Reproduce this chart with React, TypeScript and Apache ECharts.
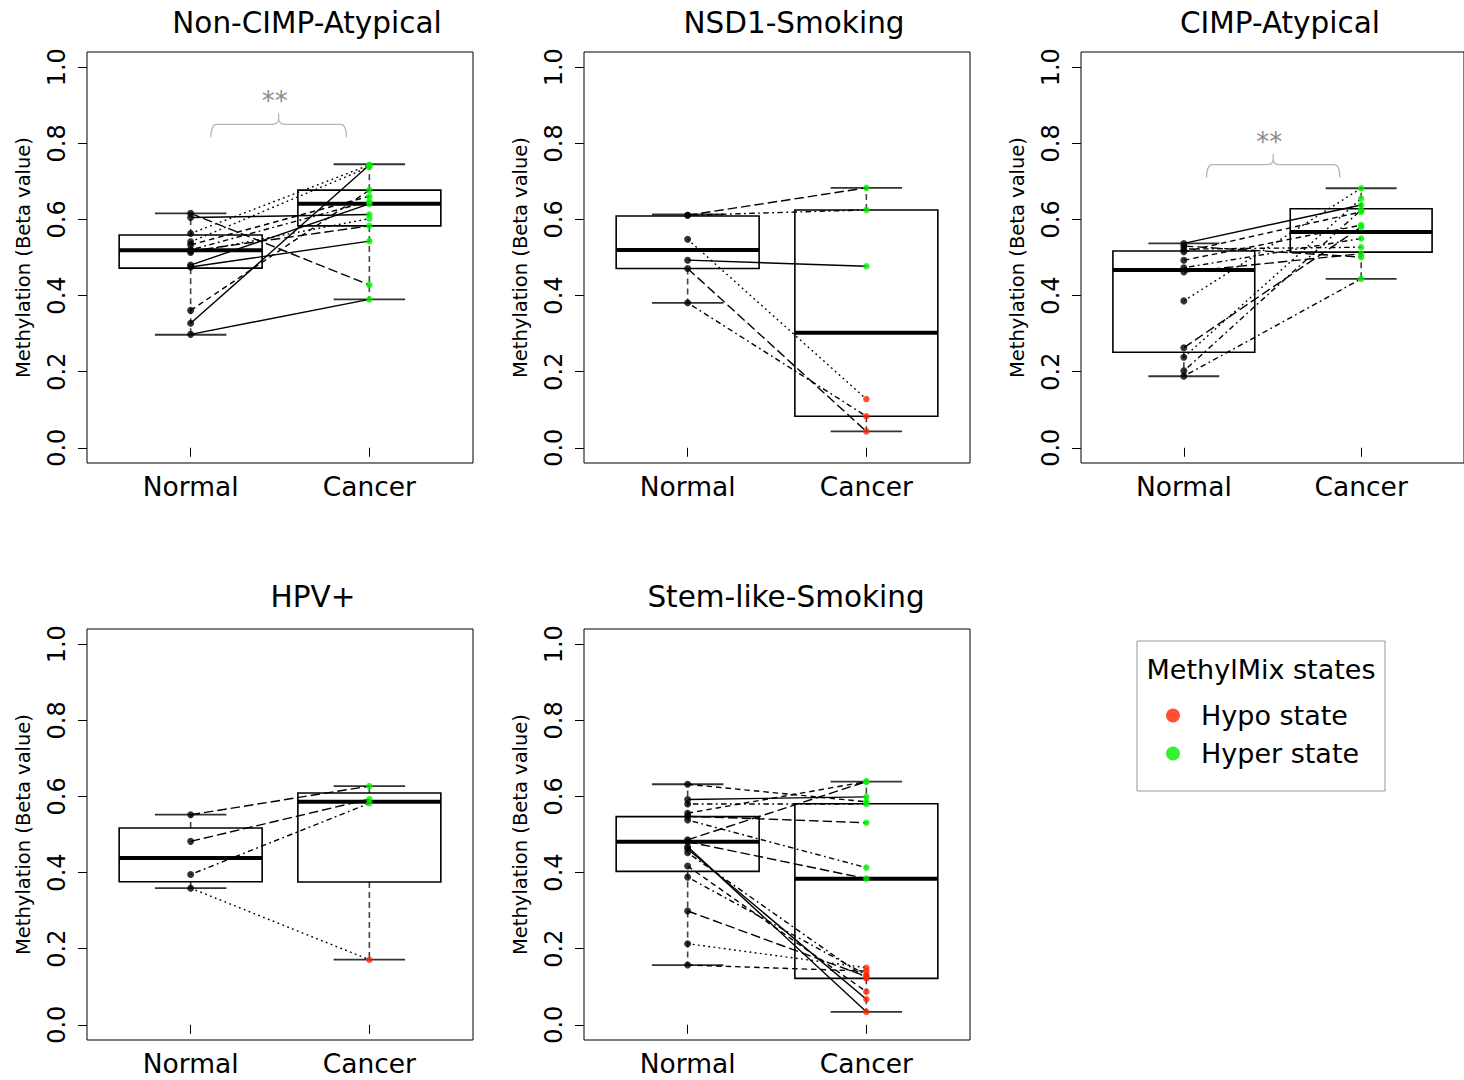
import React, { useEffect, useRef } from "react";
import * as echarts from "echarts";

// ---------------- data ----------------
const groups = ["Normal", "Cancer"];
const yTicks = [0, 0.2, 0.4, 0.6, 0.8, 1.0];
const titles = ["Non-CIMP-Atypical", "NSD1-Smoking", "CIMP-Atypical", "HPV+", "Stem-like-Smoking"];

// Panel 1: Non-CIMP-Atypical
const normal1 = [0.616, 0.605, 0.563, 0.541, 0.533, 0.52, 0.513, 0.48, 0.475, 0.361, 0.327, 0.298, 0.517];
const cancer1 = [0.428, 0.613, 0.743, 0.738, 0.661, 0.648, 0.602, 0.641, 0.543, 0.677, 0.743, 0.39, 0.583];
const state1 = ["hyper", "hyper", "hyper", "hyper", "hyper", "hyper", "hyper", "hyper", "hyper", "hyper", "hyper", "hyper", "hyper"];
const lty1 = ["longdash", "solid", "dotted", "dotted", "dashed", "dotdash", "dotted", "solid", "solid", "dashed", "solid", "solid", "longdash"];
const normalBox1 = [0.297, 0.472, 0.519, 0.559, 0.616];
const cancerBox1 = [0.39, 0.583, 0.641, 0.677, 0.745];

// Panel 2: NSD1-Smoking
const normal2 = [0.611, 0.611, 0.548, 0.493, 0.471, 0.381];
const cancer2 = [0.683, 0.625, 0.128, 0.477, 0.043, 0.083];
const state2 = ["hyper", "hyper", "hypo", "hyper", "hypo", "hypo"];
const lty2 = ["longdash", "dotdash", "dotted", "solid", "longdash", "dotdash"];
const normalBox2 = [0.381, 0.471, 0.52, 0.609, 0.613];
const cancerBox2 = [0.043, 0.083, 0.302, 0.625, 0.683];

// Panel 3: CIMP-Atypical
const normal3 = [0.537, 0.53, 0.522, 0.515, 0.493, 0.473, 0.462, 0.386, 0.263, 0.238, 0.202, 0.188];
const cancer3 = [0.638, 0.501, 0.527, 0.62, 0.585, 0.55, 0.51, 0.682, 0.58, 0.655, 0.625, 0.444];
const state3 = ["hyper", "hyper", "hyper", "hyper", "hyper", "hyper", "hyper", "hyper", "hyper", "hyper", "hyper", "hyper"];
const lty3 = ["solid", "longdash", "dotdash", "dashed", "dashed", "dotdash", "longdash", "dotted", "longdash", "dotted", "dotdash", "dotdash"];
const normalBox3 = [0.188, 0.251, 0.467, 0.517, 0.537];
const cancerBox3 = [0.444, 0.514, 0.567, 0.628, 0.682];

// Panel 4: HPV+
const normal4 = [0.552, 0.482, 0.395, 0.359];
const cancer4 = [0.627, 0.593, 0.582, 0.171];
const state4 = ["hyper", "hyper", "hyper", "hypo"];
const lty4 = ["longdash", "longdash", "dotdash", "dotted"];
const normalBox4 = [0.359, 0.376, 0.438, 0.517, 0.552];
const cancerBox4 = [0.171, 0.375, 0.586, 0.609, 0.627];

// Panel 5: Stem-like-Smoking
const normal5 = [0.632, 0.592, 0.58, 0.556, 0.548, 0.538, 0.486, 0.481, 0.468, 0.462, 0.452, 0.417, 0.388, 0.299, 0.213, 0.157];
const cancer5 = [0.586, 0.599, 0.58, 0.639, 0.531, 0.413, 0.639, 0.384, 0.034, 0.067, 0.122, 0.087, 0.131, 0.127, 0.15, 0.141];
const state5 = ["hyper", "hyper", "hyper", "hyper", "hyper", "hyper", "hyper", "hyper", "hypo", "hypo", "hypo", "hypo", "hypo", "hypo", "hypo", "hypo"];
const lty5 = ["dashed", "solid", "dotdash", "dashed", "longdash", "dotdash", "longdash", "longdash", "solid", "solid", "dotdash", "dashed", "dotdash", "longdash", "dotted", "dashed"];
const normalBox5 = [0.157, 0.403, 0.481, 0.547, 0.632];
const cancerBox5 = [0.034, 0.122, 0.384, 0.581, 0.639];

// significance brackets (x from, x to, level) for panels 1 and 3
const sigPanels = [0, 2];
const sigLeft = [1.113, 1.128];
const sigRight = [1.872, 1.88];
const sigLevel = [0.85, 0.744];
const sigLabel = ["**", "**"];

const legendTitle = "MethylMix states";
const legendNames = ["Hypo state", "Hyper state"];

// ---------------- styles / layout ----------------
const FONT = "DejaVu Sans";
const HYPO = "#ff2400";
const HYPER = "#00f000";
const LTY: Record<string, number[] | null> = {
  solid: null,
  dashed: [5.5, 4],
  dotted: [1.8, 3.4],
  dotdash: [1.8, 3.4, 5.5, 3.4],
  longdash: [9.5, 4],
  twodash: [2.6, 2.6, 8, 2.6],
};
const GRID_W = 386;
const GRID_H = 411;
const gridPos = [
  [87, 52],
  [584, 52],
  [1081, 52],
  [87, 629],
  [584, 629],
];
const titlePos = [
  [307, 8],
  [794, 8],
  [1280, 8],
  [313, 582],
  [786, 582],
];

const panels = [
  { normal: normal1, cancer: cancer1, state: state1, lty: lty1, nb: normalBox1, cb: cancerBox1 },
  { normal: normal2, cancer: cancer2, state: state2, lty: lty2, nb: normalBox2, cb: cancerBox2 },
  { normal: normal3, cancer: cancer3, state: state3, lty: lty3, nb: normalBox3, cb: cancerBox3 },
  { normal: normal4, cancer: cancer4, state: state4, lty: lty4, nb: normalBox4, cb: cancerBox4 },
  { normal: normal5, cancer: cancer5, state: state5, lty: lty5, nb: normalBox5, cb: cancerBox5 },
];

function buildOption() {
  const grid: any[] = [];
  const xAxis: any[] = [];
  const yAxis: any[] = [];
  const series: any[] = [];
  const title: any[] = [];

  panels.forEach((p, i) => {
    grid.push({
      left: gridPos[i][0],
      top: gridPos[i][1],
      width: GRID_W,
      height: GRID_H,
      show: true,
      borderColor: "#000",
      borderWidth: 1,
      backgroundColor: "transparent",
    });
    title.push({
      text: titles[i],
      left: titlePos[i][0],
      top: titlePos[i][1],
      textAlign: "center",
      padding: 0,
      textStyle: { fontFamily: FONT, fontSize: 29.5, fontWeight: "normal", color: "#000" },
    });
    xAxis.push({
      gridIndex: i,
      type: "value",
      min: 0.42,
      max: 2.58,
      axisLine: { show: false },
      splitLine: { show: false },
      axisTick: { show: true, customValues: [1, 2], length: 9, lineStyle: { color: "#000", width: 1 } },
      axisLabel: {
        customValues: [1, 2],
        formatter: (v: number) => groups[Math.round(v) - 1],
        margin: 10,
        fontSize: 26.5,
        fontFamily: FONT,
        color: "#000",
      },
    });
    yAxis.push({
      gridIndex: i,
      type: "value",
      min: -0.04,
      max: 1.04,
      axisLine: { show: false },
      splitLine: { show: false },
      axisTick: { show: true, customValues: yTicks, length: 9, lineStyle: { color: "#000", width: 1 } },
      axisLabel: {
        customValues: yTicks,
        formatter: (v: number) => v.toFixed(1),
        rotate: 90,
        margin: 18,
        fontSize: 24,
        fontFamily: FONT,
        color: "#000",
      },
      name: "Methylation (Beta value)",
      nameLocation: "middle",
      nameRotate: 90,
      nameGap: 54,
      nameTextStyle: { fontSize: 19.5, fontFamily: FONT, color: "#000" },
    });

    // boxes
    series.push({
      type: "custom",
      name: "box" + i,
      xAxisIndex: i,
      yAxisIndex: i,
      z: 2,
      silent: true,
      data: [
        [1, ...p.nb],
        [2, ...p.cb],
      ],
      renderItem: (params: any, api: any) => {
        const x = api.value(0);
        const mn = api.value(1), q1 = api.value(2), md = api.value(3), q3 = api.value(4), mx = api.value(5);
        const c = (xx: number, yy: number) => api.coord([xx, yy]);
        const tl = c(x - 0.4, q3);
        const br = c(x + 0.4, q1);
        const mL = c(x - 0.4, md), mR = c(x + 0.4, md);
        const wTop = c(x, mx), wQ3 = c(x, q3), wQ1 = c(x, q1), wBot = c(x, mn);
        const capTL = c(x - 0.2, mx), capTR = c(x + 0.2, mx);
        const capBL = c(x - 0.2, mn), capBR = c(x + 0.2, mn);
        const whisk = { stroke: "#444", lineWidth: 1.6, lineDash: [6, 4] };
        const cap = { stroke: "#333", lineWidth: 1.8 };
        return {
          type: "group",
          children: [
            { type: "line", shape: { x1: wQ3[0], y1: wQ3[1], x2: wTop[0], y2: wTop[1] }, style: whisk },
            { type: "line", shape: { x1: wQ1[0], y1: wQ1[1], x2: wBot[0], y2: wBot[1] }, style: whisk },
            { type: "line", shape: { x1: capTL[0], y1: capTL[1], x2: capTR[0], y2: capTR[1] }, style: cap },
            { type: "line", shape: { x1: capBL[0], y1: capBL[1], x2: capBR[0], y2: capBR[1] }, style: cap },
            {
              type: "rect",
              shape: { x: tl[0], y: tl[1], width: br[0] - tl[0], height: br[1] - tl[1] },
              style: { fill: "none", stroke: "#000", lineWidth: 1.6 },
            },
            { type: "line", shape: { x1: mL[0], y1: mL[1], x2: mR[0], y2: mR[1] }, style: { stroke: "#000", lineWidth: 4 } },
          ],
        };
      },
    });

    // paired lines
    series.push({
      type: "custom",
      name: "pairs" + i,
      xAxisIndex: i,
      yAxisIndex: i,
      z: 3,
      silent: true,
      data: p.normal.map((n, k) => [n, p.cancer[k], k]),
      renderItem: (params: any, api: any) => {
        const a = api.coord([1, api.value(0)]);
        const b = api.coord([2, api.value(1)]);
        const dash = LTY[p.lty[api.value(2)]];
        const style: any = { stroke: "#000", lineWidth: 1.4 };
        if (dash) style.lineDash = dash;
        return { type: "line", shape: { x1: a[0], y1: a[1], x2: b[0], y2: b[1] }, style };
      },
    });

    // points
    series.push({
      type: "scatter",
      name: "Normal",
      xAxisIndex: i,
      yAxisIndex: i,
      z: 4,
      silent: true,
      symbol: "circle",
      symbolSize: 7,
      itemStyle: { color: "#000" },
      data: p.normal.map((v) => [1, v]),
    });
    series.push({
      type: "scatter",
      name: legendNames[0],
      xAxisIndex: i,
      yAxisIndex: i,
      z: 5,
      silent: true,
      symbol: "circle",
      symbolSize: 6.5,
      itemStyle: { color: HYPO },
      data: p.cancer.filter((v, k) => p.state[k] === "hypo").map((v) => [2, v]),
    });
    series.push({
      type: "scatter",
      name: legendNames[1],
      xAxisIndex: i,
      yAxisIndex: i,
      z: 5,
      silent: true,
      symbol: "circle",
      symbolSize: 6.5,
      itemStyle: { color: HYPER },
      data: p.cancer.filter((v, k) => p.state[k] === "hyper").map((v) => [2, v]),
    });
  });

  // significance braces
  sigPanels.forEach((pi, s) => {
    series.push({
      type: "custom",
      name: "sig" + s,
      xAxisIndex: pi,
      yAxisIndex: pi,
      z: 6,
      silent: true,
      data: [[sigLeft[s], sigRight[s], sigLevel[s]]],
      renderItem: (params: any, api: any) => {
        const a = api.coord([api.value(0), api.value(2)]);
        const b = api.coord([api.value(1), api.value(2)]);
        const y = a[1];
        const m = (a[0] + b[0]) / 2;
        const d = 13, pk = 11, r = 6;
        const path =
          `M${a[0]},${y + d} Q${a[0]},${y} ${a[0] + r},${y} L${m - r},${y} Q${m},${y} ${m},${y - r} L${m},${y - pk} ` +
          `M${b[0]},${y + d} Q${b[0]},${y} ${b[0] - r},${y} L${m + r},${y} Q${m},${y} ${m},${y - r}`;
        return {
          type: "group",
          children: [
            { type: "path", shape: { pathData: path }, style: { fill: "none", stroke: "#b4b4b4", lineWidth: 1.2 } },
            {
              type: "text",
              x: m - 4,
              y: y - pk + 1,
              style: {
                text: sigLabel[s],
                fill: "#8c8c8c",
                fontSize: 26,
                fontFamily: FONT,
                align: "center",
                verticalAlign: "bottom",
              },
            },
          ],
        };
      },
    });
  });

  return {
    animation: false,
    backgroundColor: "#fff",
    title,
    grid,
    xAxis,
    yAxis,
    series,
    legend: {
      data: legendNames,
      orient: "vertical",
      left: 1166,
      top: 702,
      padding: 0,
      itemGap: 11,
      itemWidth: 14,
      itemHeight: 14,
      icon: "circle",
      selectedMode: false,
      textStyle: { fontFamily: FONT, fontSize: 27, color: "#000", padding: [0, 0, 0, 16] },
    },
    graphic: [
      {
        type: "rect",
        shape: { x: 1137, y: 641, width: 248, height: 150 },
        style: { fill: "none", stroke: "#999", lineWidth: 1 },
      },
      {
        type: "text",
        x: 1261,
        y: 669,
        style: {
          text: legendTitle,
          fontFamily: FONT,
          fontSize: 27,
          fill: "#000",
          align: "center",
          verticalAlign: "middle",
        },
      },
    ],
  };
}

export default function App() {
  const ref = useRef<HTMLDivElement>(null);
  useEffect(() => {
    const chart = echarts.init(ref.current!, null, { renderer: "svg" });
    chart.setOption(buildOption());
    return () => chart.dispose();
  }, []);
  return <div ref={ref} style={{ position: "absolute", left: 0, top: 0, width: 1464, height: 1080 }} />;
}
